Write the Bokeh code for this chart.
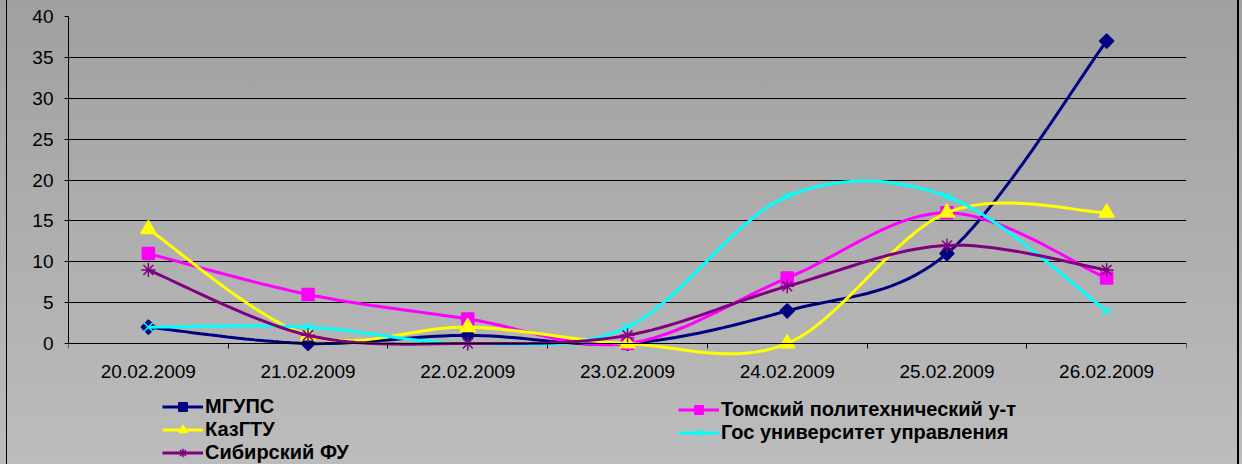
import numpy as np
from bokeh.plotting import figure
from bokeh.models import (FixedTicker, Legend, LegendItem, Range1d)
from bokeh.embed import file_html
from bokeh.resources import INLINE

# ---- data ----
dates = ["20.02.2009", "21.02.2009", "22.02.2009", "23.02.2009",
         "24.02.2009", "25.02.2009", "26.02.2009"]
mgups = [2, 0, 1, 0, 4, 11, 37]
tomsk = [11, 6, 3, 0, 8, 16, 8]
kazgtu = [14, 1, 2, 0, 0, 16, 16]
gos_univ = [2, 2, 0, 2, 18, 18, 4]
sibfu = [9, 1, 0, 1, 7, 12, 9]

names = ["МГУПС", "Томский политехнический у-т", "КазГТУ",
         "Гос университет управления", "Сибирский ФУ"]
series = [mgups, tomsk, kazgtu, gos_univ, sibfu]
colors = ["#000080", "#FF00FF", "#FFFF00", "#00FFFF", "#800080"]
markers = ["square", "square", "triangle", "x", "asterisk"]
msizes = [10, 12, 15, 13, 14]
angles = [np.pi / 4, 0, 0, 0, 0]

FONT = "Liberation Sans"

W, H = 1242, 464
FL, FR, FT, ZERO = 68, 1186, 16, 343   # frame left/right/top, pixel row of value 0


def smooth(xs, ys, n=20):
    """Excel-like smoothed line (Catmull-Rom as cubic Bezier) through the points."""
    P = np.column_stack([np.asarray(xs, float), np.asarray(ys, float)])
    m = len(P)
    ox, oy = [], []
    for i in range(m - 1):
        p0 = P[i - 1] if i > 0 else P[i]
        p1 = P[i]
        p2 = P[i + 1]
        p3 = P[i + 2] if i + 2 < m else P[i + 1]
        c1 = p1 + (p2 - p0) / 6.0
        c2 = p2 - (p3 - p1) / 6.0
        ts = np.linspace(0, 1, n, endpoint=(i == m - 2))
        for t in ts:
            b = ((1 - t) ** 3) * p1 + 3 * ((1 - t) ** 2) * t * c1 + 3 * (1 - t) * t * t * c2 + t ** 3 * p2
            ox.append(b[0])
            oy.append(b[1])
    return ox, oy


x = list(range(len(dates)))
ymax = 40
ymin = -ymax * (H - ZERO) / (ZERO - FT)

p = figure(width=W, height=H, output_backend="svg", toolbar_location=None,
           x_range=Range1d(-0.5, len(dates) - 0.5), y_range=Range1d(ymin, ymax),
           min_border_left=FL, min_border_right=W - FR, min_border_top=FT,
           min_border_bottom=0)
p.styles = {"background-image":
            "linear-gradient(to right, transparent 6px, #000 6px, #000 7px, transparent 7px, "
            "transparent 1237px, #000 1237px, #000 1239px, transparent 1239px), "
            "linear-gradient(to bottom, #a0a0a0, #bcbcbc)"}
p.border_fill_color = None
p.background_fill_color = None
p.outline_line_color = None

# axes
p.xgrid.visible = False
p.ygrid.grid_line_color = "#000000"
p.ygrid.grid_line_width = 1
p.yaxis.ticker = FixedTicker(ticks=list(range(0, 41, 5)))
p.yaxis.bounds = (0, ymax)
p.xaxis.fixed_location = 0
p.xaxis.ticker = FixedTicker(ticks=x, minor_ticks=[i - 0.5 for i in range(len(dates) + 1)])
p.xaxis.major_label_overrides = {i: d for i, d in enumerate(dates)}
for ax in (p.xaxis[0], p.yaxis[0]):
    ax.axis_line_color = "#000000"
    ax.major_tick_line_color = "#000000"
    ax.minor_tick_line_color = "#000000"
    ax.major_label_text_font = FONT
    ax.major_label_text_font_size = "19px"
    ax.major_label_text_color = "#000000"
    ax.minor_tick_in = 0
    ax.major_tick_in = 0
p.xaxis.major_tick_out = 0
p.xaxis.minor_tick_out = 5
p.xaxis.major_label_standoff = 16
p.yaxis.major_tick_out = 4
p.yaxis.minor_tick_out = 0
p.yaxis.major_label_standoff = 11

items = []
for name, ys, c, mk, ms, ang in zip(names, series, colors, markers, msizes, angles):
    sx, sy = smooth(x, ys)
    r_line = p.line(sx, sy, line_color=c, line_width=3)
    r_pts = p.scatter(x, ys, marker=mk, size=ms, angle=ang, fill_color=c,
                      line_color=c, line_width=1.5)
    items.append(LegendItem(label=name, renderers=[r_line, r_pts]))


def make_legend(its, loc):
    lg = Legend(items=its, location=loc, orientation="vertical",
                label_text_font=FONT, label_text_font_size="20px",
                label_text_font_style="bold", label_text_color="#000000",
                glyph_width=41, glyph_height=21, label_height=21,
                label_standoff=2, spacing=0, padding=0, margin=0,
                border_line_color=None, background_fill_alpha=0)
    return lg


p.add_layout(make_legend([items[0], items[2], items[4]], (162 - FL, 0)), "center")
p.add_layout(make_legend([items[1], items[3]], (678 - FL, 20)), "center")

open("out.html", "w").write(file_html(p, INLINE))
